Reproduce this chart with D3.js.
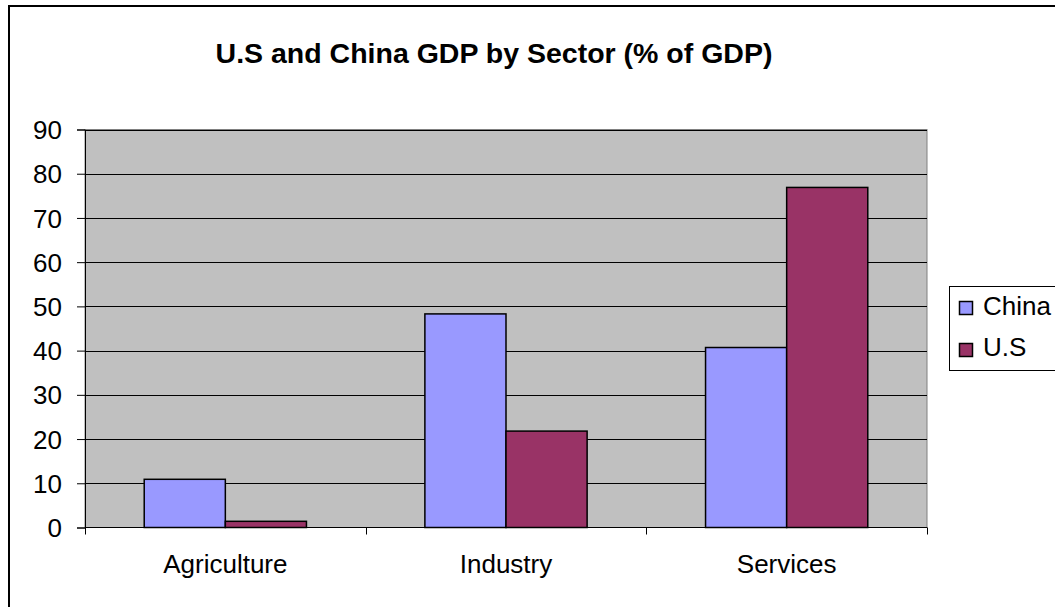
<!DOCTYPE html>
<html lang="en">
<head>
<meta charset="UTF-8">
<title>U.S and China GDP by Sector</title>
<script src="https://d3js.org/d3.v7.min.js"></script>
<style>
  body { margin: 0; background: #fff; }
  text { font-family: "Liberation Sans", Arial, sans-serif; fill: #000; }
</style>
</head>
<body>
<svg width="1055" height="607"></svg>
<script>
// data
const sectors = ["Agriculture", "Industry", "Services"];
const seriesNames = ["China", "U.S"];
const china = [10.9, 48.3, 40.7];
const us = [1.4, 21.8, 76.9];
const yTicks = [0, 10, 20, 30, 40, 50, 60, 70, 80, 90];
const colors = ["#9999ff", "#993366"];

const svg = d3.select("svg");
const plot = {left: 85, right: 927, top: 129.5, bottom: 527.5};

// outer frame (runs off the right and bottom edges)
svg.append("rect").attr("x", 9).attr("y", 6).attr("width", 1060).attr("height", 620)
  .attr("fill", "none").attr("stroke", "#000").attr("stroke-width", 2);

svg.append("text").attr("x", 494).attr("y", 63).attr("text-anchor", "middle")
  .style("font-size", "28.5px").style("font-weight", "bold")
  .text("U.S and China GDP by Sector (% of GDP)");

const x0 = d3.scaleBand().domain(sectors).range([plot.left, plot.right]).paddingInner(0).paddingOuter(0);
const x1 = d3.scaleBand().domain(seriesNames).range([0, x0.bandwidth()]).paddingInner(0).paddingOuter(0.73);
const y = d3.scaleLinear().domain([0, 90]).range([plot.bottom, plot.top]);

// plot background
svg.append("rect").attr("x", plot.left).attr("y", plot.top)
  .attr("width", plot.right - plot.left).attr("height", plot.bottom - plot.top)
  .attr("fill", "#c0c0c0").attr("stroke", "#808080").attr("stroke-width", 1);

// gridlines
svg.append("g").selectAll("line").data(yTicks.filter(d => d > 0)).join("line")
  .attr("x1", plot.left).attr("x2", plot.right)
  .attr("y1", d => Math.round(y(d)) + 0.5).attr("y2", d => Math.round(y(d)) + 0.5)
  .attr("stroke", "#000").attr("stroke-width", 1);

// bars
const rows = sectors.map((s, i) => ({sector: s, values: [china[i], us[i]]}));
svg.append("g").selectAll("g").data(rows).join("g")
  .attr("transform", d => "translate(" + x0(d.sector) + ",0)")
  .selectAll("rect").data(d => d.values.map((v, j) => ({name: seriesNames[j], v: v, j: j}))).join("rect")
  .attr("x", d => x1(d.name)).attr("width", x1.bandwidth())
  .attr("y", d => y(d.v)).attr("height", d => y(0) - y(d.v))
  .attr("fill", d => colors[d.j]).attr("stroke", "#000").attr("stroke-width", 1.5);

// y axis
const yAxis = svg.append("g").attr("transform", "translate(" + plot.left + ",0)")
  .call(d3.axisLeft(y).tickValues(yTicks).tickSize(8).tickPadding(15));
yAxis.select(".domain").attr("stroke", "#000");
yAxis.selectAll("text").style("font-size", "26px").style("font-family", "Liberation Sans, Arial, sans-serif").attr("dy", "0.35em");

// x axis: ticks at category boundaries
const xAxis = svg.append("g").attr("transform", "translate(0," + plot.bottom + ")");
xAxis.append("line").attr("x1", plot.left).attr("x2", plot.right).attr("stroke", "#000");
const bounds = sectors.map(s => x0(s)).concat([plot.right]);
xAxis.selectAll("line.tk").data(bounds).join("line").attr("class", "tk")
  .attr("x1", d => Math.round(d) + 0.5).attr("x2", d => Math.round(d) + 0.5)
  .attr("y1", 0).attr("y2", 7).attr("stroke", "#000");
xAxis.selectAll("text").data(sectors).join("text")
  .attr("x", d => x0(d) + x0.bandwidth() / 2).attr("y", 45)
  .attr("text-anchor", "middle").style("font-size", "26px").text(d => d);

// legend
const lg = svg.append("g").attr("transform", "translate(949,286)");
lg.append("rect").attr("x", 0.5).attr("y", 0.5).attr("width", 120).attr("height", 84)
  .attr("fill", "#fff").attr("stroke", "#000");
seriesNames.forEach((n, i) => {
  lg.append("rect").attr("x", 10.5).attr("y", 15.5 + i * 42).attr("width", 13).attr("height", 13)
    .attr("fill", colors[i]).attr("stroke", "#000").attr("stroke-width", 1.5);
  lg.append("text").attr("x", 34).attr("y", 29 + i * 41).style("font-size", "26px").text(n);
});
</script>
</body>
</html>
